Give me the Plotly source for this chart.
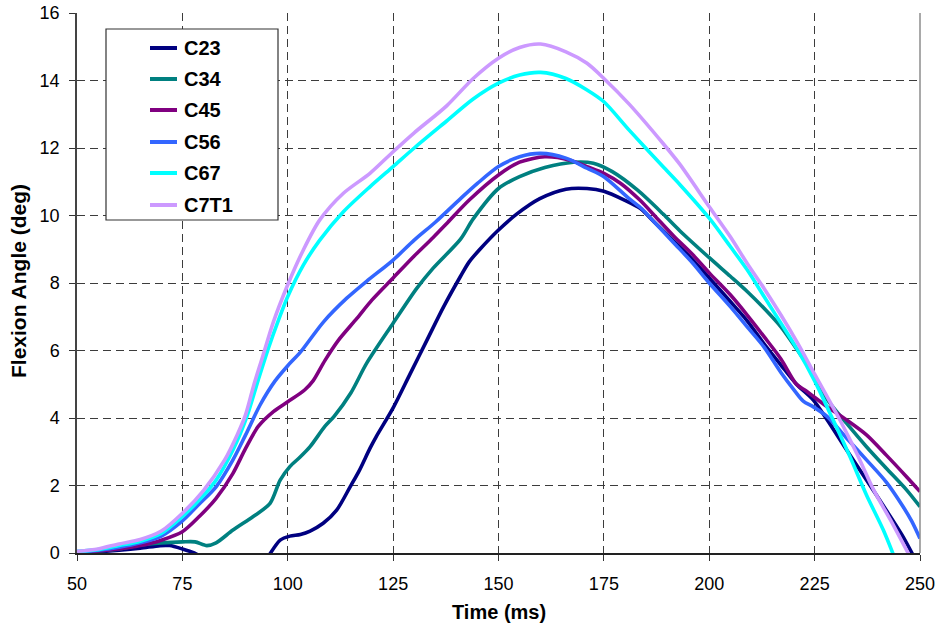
import plotly.graph_objects as go

# Flexion angle (deg) of each cervical segment versus time (ms)
t_c23 = [50, 55, 60, 65, 69.7, 72, 75, 77.8, 79, None, 95.5, 97, 98.2, 100.5, 103, 105.3, 108.4,
         111.6, 114.8, 117, 119.5, 121, 125, 129, 133, 137, 141, 143, 145.6, 150, 154.3, 159.8,
         166, 171, 175, 180, 183.6, 187, 191.5, 196, 200, 205, 209, 213, 217, 220.7, 224.7,
         228, 232.6, 237.3, 242, 246, 248.5]
c23 = [0.02, 0.04, 0.08, 0.14, 0.22, 0.22, 0.12, 0.0, -0.08, None, -0.08, 0.2, 0.38, 0.5, 0.55,
       0.65, 0.88, 1.27, 1.96, 2.45, 3.1, 3.45, 4.3, 5.3, 6.3, 7.3, 8.2, 8.62, 9.0, 9.57, 10.04,
       10.5, 10.78, 10.8, 10.72, 10.45, 10.21, 9.8, 9.25, 8.7, 8.15, 7.45, 6.88, 6.2, 5.57,
       5.0, 4.53, 3.94, 3.05, 2.16, 1.27, 0.48, -0.1]

t_c34 = [50, 55, 60, 65, 70, 75, 78, 80.8, 83, 87, 91.8, 95.8, 98.2, 100.5, 103, 105.3, 108.8,
         111, 115, 118.7, 125, 130.6, 134.5, 141, 144, 150, 155, 161, 167.8, 172.5, 177, 183,
         189, 193, 200, 205, 209, 213, 217, 220.7, 224.7, 228, 232.6, 237.3, 242, 246.8, 250]
c34 = [0.03, 0.06, 0.12, 0.24, 0.3, 0.33, 0.33, 0.22, 0.3, 0.68, 1.08, 1.47, 2.16, 2.56, 2.85,
       3.15, 3.75, 4.05, 4.75, 5.62, 6.81, 7.84, 8.44, 9.3, 9.9, 10.8, 11.15, 11.42, 11.58,
       11.55, 11.3, 10.75, 10.05, 9.55, 8.75, 8.2, 7.75, 7.25, 6.7, 6.05, 5.3, 4.55, 3.84, 3.15,
       2.51, 1.87, 1.37]

t_c45 = [50, 55, 60, 65, 70, 75, 79, 83, 87, 90, 93, 96.6, 100, 104, 106, 108.8, 112, 116.4,
         120, 125, 130, 134.5, 138, 143, 150, 155, 161, 167, 171, 175, 179, 183.6, 187, 191.5,
         196, 200, 205, 209, 213, 217, 220.7, 223, 228, 232.6, 237.3, 242, 246.8, 250]
c45 = [0.03, 0.06, 0.12, 0.22, 0.38, 0.63, 1.08, 1.62, 2.36, 3.1, 3.75, 4.19, 4.48, 4.83, 5.1,
       5.7, 6.3, 6.95, 7.5, 8.15, 8.8, 9.35, 9.8, 10.45, 11.2, 11.58, 11.74, 11.64, 11.45, 11.25,
       10.95, 10.45, 10.0, 9.4, 8.85, 8.3, 7.65, 7.05, 6.41, 5.75, 5.0, 4.8, 4.33, 3.94, 3.5,
       2.9, 2.26, 1.82]

t_c56 = [50, 55, 60, 65, 70, 75, 79, 83, 87, 90, 93.5, 97, 100, 103, 108.5, 114, 118.7, 125,
         130, 135, 141, 145, 150, 155, 160, 166, 171, 175, 181, 184, 187, 191.5, 196, 200, 205,
         209, 213, 217, 220, 222.3, 224.7, 228, 232.6, 237.3, 242, 246, 248, 250]
c56 = [0.03, 0.08, 0.17, 0.3, 0.5, 0.95, 1.45, 1.96, 2.76, 3.5, 4.4, 5.1, 5.55, 5.95, 6.85,
       7.55, 8.05, 8.68, 9.27, 9.8, 10.5, 10.95, 11.45, 11.74, 11.84, 11.7, 11.4, 11.15, 10.5,
       10.2, 9.8, 9.2, 8.6, 8.0, 7.3, 6.7, 6.1, 5.35, 4.85, 4.5, 4.33, 4.04, 3.4, 2.76, 2.1,
       1.37, 0.95, 0.43]

t_c67 = [50, 55, 60, 65, 70, 75, 79, 83, 87, 90.3, 93, 95.5, 97.8, 100, 103.7, 107.6, 113.2,
         119.5, 125, 130, 137.7, 144, 150, 155, 160, 166, 171, 175, 181, 189, 193, 200, 205,
         209, 213, 217, 221, 225, 229.4, 233.4, 237.3, 241.3, 244]
c67 = [0.05, 0.1, 0.22, 0.35, 0.58, 1.08, 1.57, 2.16, 3.05, 4.04, 5.13, 6.1, 6.9, 7.6, 8.53,
       9.27, 10.11, 10.85, 11.45, 12.0, 12.8, 13.45, 13.92, 14.16, 14.24, 14.06, 13.72, 13.37,
       12.53, 11.45, 10.92, 9.92, 9.08, 8.39, 7.6, 6.81, 6.01, 5.1, 3.94, 2.85, 1.72, 0.68,
       -0.15]

t_c7t1 = [50, 55, 60, 65, 70, 75, 80, 85, 88, 90, 92, 94, 96.6, 100, 103.7, 107.6, 113.2, 119.5,
          125, 130, 137.7, 144, 150, 155, 160, 166, 171, 175, 181, 189, 193, 200, 205, 209, 213,
          217, 221, 225, 231, 235, 239, 243, 247.8]
c7t1 = [0.05, 0.12, 0.27, 0.4, 0.65, 1.18, 1.85, 2.75, 3.5, 4.1, 5.0, 5.8, 6.85, 7.95, 8.98,
        9.87, 10.66, 11.25, 11.89, 12.45, 13.25, 14.06, 14.66, 14.98, 15.08, 14.85, 14.51,
        14.06, 13.3, 12.14, 11.52, 10.26, 9.37, 8.58, 7.84, 7.05, 6.21, 5.3, 3.94, 2.95, 1.87,
        0.98, -0.15]

names = ["C23", "C34", "C45", "C56", "C67", "C7T1"]
times = [t_c23, t_c34, t_c45, t_c56, t_c67, t_c7t1]
angles = [c23, c34, c45, c56, c67, c7t1]
colors = ["#000080", "#008080", "#800080", "#3366FF", "#00FFFF", "#CC99FF"]

x_ticks = [50, 75, 100, 125, 150, 175, 200, 225, 250]
y_ticks = [0, 2, 4, 6, 8, 10, 12, 14, 16]

fig = go.Figure()
for name, t, a, col in zip(names, times, angles, colors):
    fig.add_trace(go.Scatter(
        x=t, y=a, name=name, mode="lines",
        line=dict(color=col, width=3.6, shape="spline", smoothing=0.8),
        connectgaps=False, showlegend=False,
    ))

# plot-area geometry in pixels (used for the hand-drawn legend)
W, H = 940, 629
L, R, T, B = 77, 20, 13, 76
pw, ph = W - L - R, H - T - B


def px(x):
    return (x - L) / pw


def py(y):
    return (H - B - y) / ph


shapes = [
    # right border of the plot area
    dict(type="line", xref="paper", yref="paper", x0=1, x1=1, y0=0, y1=1,
         line=dict(color="#8c8c8c", width=1.5)),
    # legend frame
    dict(type="rect", xref="paper", yref="paper", x0=px(106), x1=px(278),
         y0=py(220), y1=py(29), line=dict(color="#333333", width=1.2),
         fillcolor="white", layer="above"),
]
bold = dict(family="Liberation Sans, Arial", color="black", weight="bold")
annotations = []
row_y = [48, 79, 110, 142, 173, 205]
for name, col, ry in zip(names, colors, row_y):
    shapes.append(dict(type="line", xref="paper", yref="paper", x0=px(150), x1=px(177),
                       y0=py(ry), y1=py(ry), line=dict(color=col, width=4), layer="above"))
    annotations.append(dict(x=px(182), y=py(ry), xref="paper", yref="paper", text=name,
                            showarrow=False, xanchor="left", yanchor="middle",
                            font=dict(size=20, **bold)))

# axis titles
annotations.append(dict(x=px(499), y=py(612), xref="paper", yref="paper", text="Time (ms)",
                        showarrow=False, xanchor="center", yanchor="middle",
                        font=dict(size=20, **bold)))
annotations.append(dict(x=px(18), y=py(281), xref="paper", yref="paper",
                        text="Flexion Angle (deg)", textangle=-90, showarrow=False,
                        xanchor="center", yanchor="middle", font=dict(size=21, **bold)))

grid = dict(showgrid=True, gridcolor="#3c3c3c", griddash="8px,5px", gridwidth=1)

fig.update_layout(
    template="none",
    width=W, height=H,
    margin=dict(l=L, r=R, t=T, b=B, autoexpand=False),
    paper_bgcolor="white", plot_bgcolor="white",
    font=dict(family="Liberation Sans, Arial", size=18, color="black"),
    shapes=shapes, annotations=annotations,
    xaxis=dict(range=[50, 250], tickvals=x_ticks, ticks="outside", ticklen=6,
               tickcolor="#333333", showline=True, linecolor="#222222", linewidth=1.5,
               zeroline=False, automargin=False, ticklabelstandoff=8, **grid),
    yaxis=dict(range=[0, 16], tickvals=y_ticks, ticks="outside", ticklen=6,
               tickcolor="#333333", showline=True, linecolor="#444444", linewidth=1.5,
               zeroline=False, automargin=False, ticklabelstandoff=6, **grid),
)

fig.write_html("out.html")
